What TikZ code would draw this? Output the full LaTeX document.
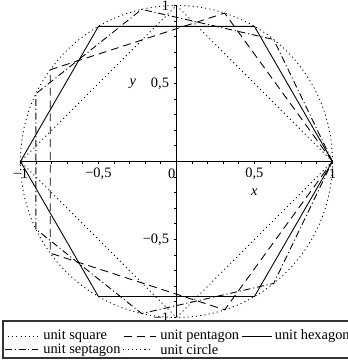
\documentclass[tikz,border=0pt]{standalone}
\usepackage{fontspec}
\setmainfont{Liberation Serif}
\usepackage{tikz}

\tikzset{
  sqline/.style={dash pattern=on 0.6pt off 1.8pt},
  pentline/.style={dash pattern=on 4.5pt off 2.8pt},
  hexline/.style={solid},
  septline/.style={dash pattern=on 4pt off 1.6pt on 0.6pt off 1.6pt},
  circline/.style={dash pattern=on 0.6pt off 1.8pt},
  lbl/.style={font=\fontsize{8.2}{9}\selectfont, inner sep=0pt},
}

\begin{document}
\begin{tikzpicture}[x=3.12cm,y=3.12cm,line width=0.5pt]
        \useasboundingbox (-1.131,-1.292) rectangle (1.099,1.035);
        \clip (-1.131,-1.292) rectangle (1.099,1.035);
        % axes and ticks
        \draw (-1,0) -- (1,0);
        \draw (0,-1) -- (0,1);
        \foreach \i in {-10,...,10} {
            \draw (\i/10,0) -- ++(0,-0.016);
            \draw (0,\i/10) -- ++(-0.016,0);
        }
        \node[lbl] (xa) at (-1,-0.08) {−1};
        \node[lbl] (xb) at (-0.5,-0.08) {−0,5};
        \node[lbl,anchor=east] (xo) at (-0.005,-0.08) {0};
        \node[lbl] (xc) at (0.5,-0.08) {0,5};
        \node[lbl] (xd) at (1,-0.08) {1};
        \node[lbl,anchor=east] (ya) at (-0.045,1) {1};
        \node[lbl,anchor=east] (yb) at (-0.045,0.5) {0,5};
        \node[lbl,anchor=east] (yc) at (-0.045,-0.5) {−0,5};
        \node[lbl,anchor=east] (yd) at (-0.045,-1) {−1};
        \node[lbl] (xlab) at (0.5,-0.195) {\itshape x};
        \node[lbl] (ylab) at (-0.279,0.5) {\itshape y};
        % the polygons
        \draw[sqline] (1,0) -- (0,1) -- (-1,0) -- (0,-1) -- cycle;
        \draw[pentline] (0:1) \foreach \k in {1,...,4} { -- (\k*72:1) } -- cycle;
        \draw[hexline] (0:1) \foreach \k in {1,...,5} { -- (\k*60:1) } -- cycle;
        \draw[septline] (0:1) \foreach \k in {1,...,6} { -- (\k*360/7:1) } -- cycle;
        \draw[circline] (0,0) circle (1);
        % legend
        \draw[line width=0.8pt,black!80] (-1.112,-1.022) rectangle (1.3,-1.260);
        \draw[sqline] (-1.08,-1.119) -- (-0.888,-1.119);
        \node[lbl,anchor=west] (lsq) at (-0.856,-1.119) {unit square};
        \draw[pentline] (-0.335,-1.119) -- (-0.13,-1.119);
        \node[lbl,anchor=west] (lpent) at (-0.106,-1.119) {unit pentagon};
        \draw[hexline] (0.42,-1.119) -- (0.61,-1.119);
        \node[lbl,anchor=west] (lhex) at (0.628,-1.119) {unit hexagon};
        \draw[septline] (-1.1,-1.208) -- (-0.888,-1.208);
        \node[lbl,anchor=west] (lsept) at (-0.856,-1.208) {unit septagon};
        \draw[circline] (-0.34,-1.208) -- (-0.17,-1.208);
        \node[lbl,anchor=west] (lcirc) at (-0.106,-1.208) {unit circle};
\end{tikzpicture}
\end{document}
